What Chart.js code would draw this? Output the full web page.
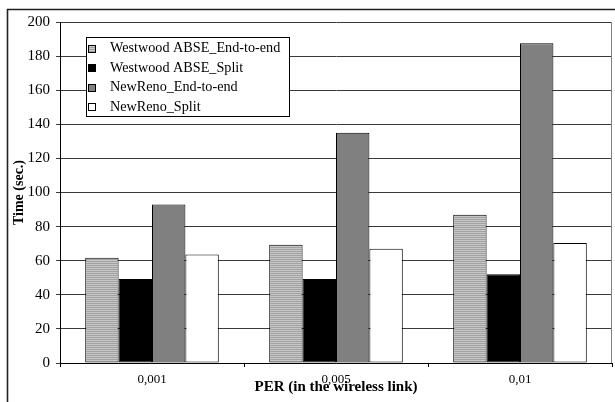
<!DOCTYPE html>
<html>
<head>
<meta charset="utf-8">
<script src="https://cdn.jsdelivr.net/npm/chart.js@4/dist/chart.umd.min.js"></script>
<style>
  html, body { margin: 0; padding: 0; background: #fff; }
  #wrap { width: 615px; height: 402px; }
</style>
</head>
<body>
<div id="wrap"><canvas id="c" width="615" height="402"></canvas></div>
<script>
// Transfer time per packet error rate on the wireless link
const categories = ['0,001', '0,005', '0,01'];
const seriesNames = ['Westwood ABSE_End-to-end', 'Westwood ABSE_Split', 'NewReno_End-to-end', 'NewReno_Split'];
const westwoodEndToEnd = [61.8, 69.4, 87.0];
const westwoodSplit = [49.3, 49.3, 52.0];
const newRenoEndToEnd = [92.9, 135.1, 187.5];
const newRenoSplit = [63.7, 67.0, 70.4];
const yMin = 0, yMax = 200, yStep = 20;

const canvas = document.getElementById('c');
const ctx = canvas.getContext('2d');

// fine horizontal hatching used for the Westwood end-to-end bars
function hatchPattern() {
  const p = document.createElement('canvas');
  p.width = 4; p.height = 2;
  const g = p.getContext('2d');
  g.fillStyle = '#c6c6c6'; g.fillRect(0, 0, 4, 1);
  g.fillStyle = '#a2a2a2'; g.fillRect(0, 1, 4, 1);
  return ctx.createPattern(p, 'repeat');
}
const hatch = hatchPattern();
const fills = [hatch, '#000000', '#808080', '#ffffff'];
const seriesValues = [westwoodEndToEnd, westwoodSplit, newRenoEndToEnd, newRenoSplit];

const serif = 'Liberation Serif, Times New Roman, serif';

const decorations = {
  id: 'decorations',
  afterDraw(chart) {
    const c = chart.ctx;
    const a = chart.chartArea;
    c.save();
    // outer frame
    c.strokeStyle = '#222';
    c.lineWidth = 1.6;
    c.beginPath();
    c.moveTo(7.5, 402);
    c.lineTo(7.5, 9.5);
    c.lineTo(615, 9.5);
    c.stroke();
    // right edge of plot area
    c.strokeStyle = '#808080';
    c.lineWidth = 1;
    c.beginPath();
    c.moveTo(Math.round(a.right) - 0.5, a.top);
    c.lineTo(Math.round(a.right) - 0.5, a.bottom);
    c.stroke();

    // legend box
    const lx = 86, ly = 37, lw = 203, lh = 79;
    c.fillStyle = '#fff';
    c.fillRect(lx, ly, lw, lh);
    c.strokeStyle = '#000';
    c.lineWidth = 1;
    c.strokeRect(lx + 0.5, ly + 0.5, lw, lh);
    c.font = '14.2px ' + serif;
    c.textBaseline = 'middle';
    c.textAlign = 'left';
    chart.data.datasets.forEach((ds, i) => {
      const cy = 48.5 + i * 19.5;
      c.fillStyle = ds.backgroundColor;
      c.fillRect(88, Math.round(cy) - 4, 8, 8);
      c.strokeStyle = '#000';
      c.strokeRect(88.5, Math.round(cy) - 3.5, 7, 7);
      c.fillStyle = '#000';
      c.fillText(ds.label, 110, cy);
    });
    c.restore();
  }
};

new Chart(canvas, {
  type: 'bar',
  data: {
    labels: categories,
    datasets: seriesNames.map((name, i) => ({
      label: name,
      data: seriesValues[i],
      backgroundColor: fills[i],
      borderColor: '#000',
      borderWidth: 1,
      borderSkipped: false,
      barPercentage: 1.0,
      categoryPercentage: 0.726
    }))
  },
  options: {
    responsive: false,
    devicePixelRatio: 1,
    animation: false,
    layout: { padding: { left: 0, right: 3, top: 22, bottom: 0 } },
    plugins: {
      legend: { display: false },
      tooltip: { enabled: false }
    },
    scales: {
      x: {
        grid: { offset: true, drawOnChartArea: false, drawTicks: true, tickLength: 4, color: '#000', lineWidth: 1 },
        border: { display: true, color: '#000', width: 1 },
        ticks: { font: { family: serif, size: 13 }, color: '#000', padding: 5, maxRotation: 0 },
        title: { display: true, text: 'PER (in the wireless link)', color: '#000',
                 font: { family: serif, size: 15, weight: 'bold' }, padding: { top: 0, bottom: 6 } },
        afterFit(s) { s.height = 39; }
      },
      y: {
        min: yMin, max: yMax,
        ticks: { stepSize: yStep, font: { family: serif, size: 15 }, color: '#000', padding: 6 },
        grid: { color: '#3a3a3a', lineWidth: 1, tickLength: 4, drawTicks: true },
        border: { display: true, color: '#000', width: 1 },
        title: { display: true, text: 'Time (sec.)', color: '#000',
                 font: { family: serif, size: 14, weight: 'bold' }, padding: { top: 11, bottom: 0 } },
        afterFit(s) { s.width = 60; }
      }
    }
  },
  plugins: [decorations]
});
</script>
</body>
</html>
